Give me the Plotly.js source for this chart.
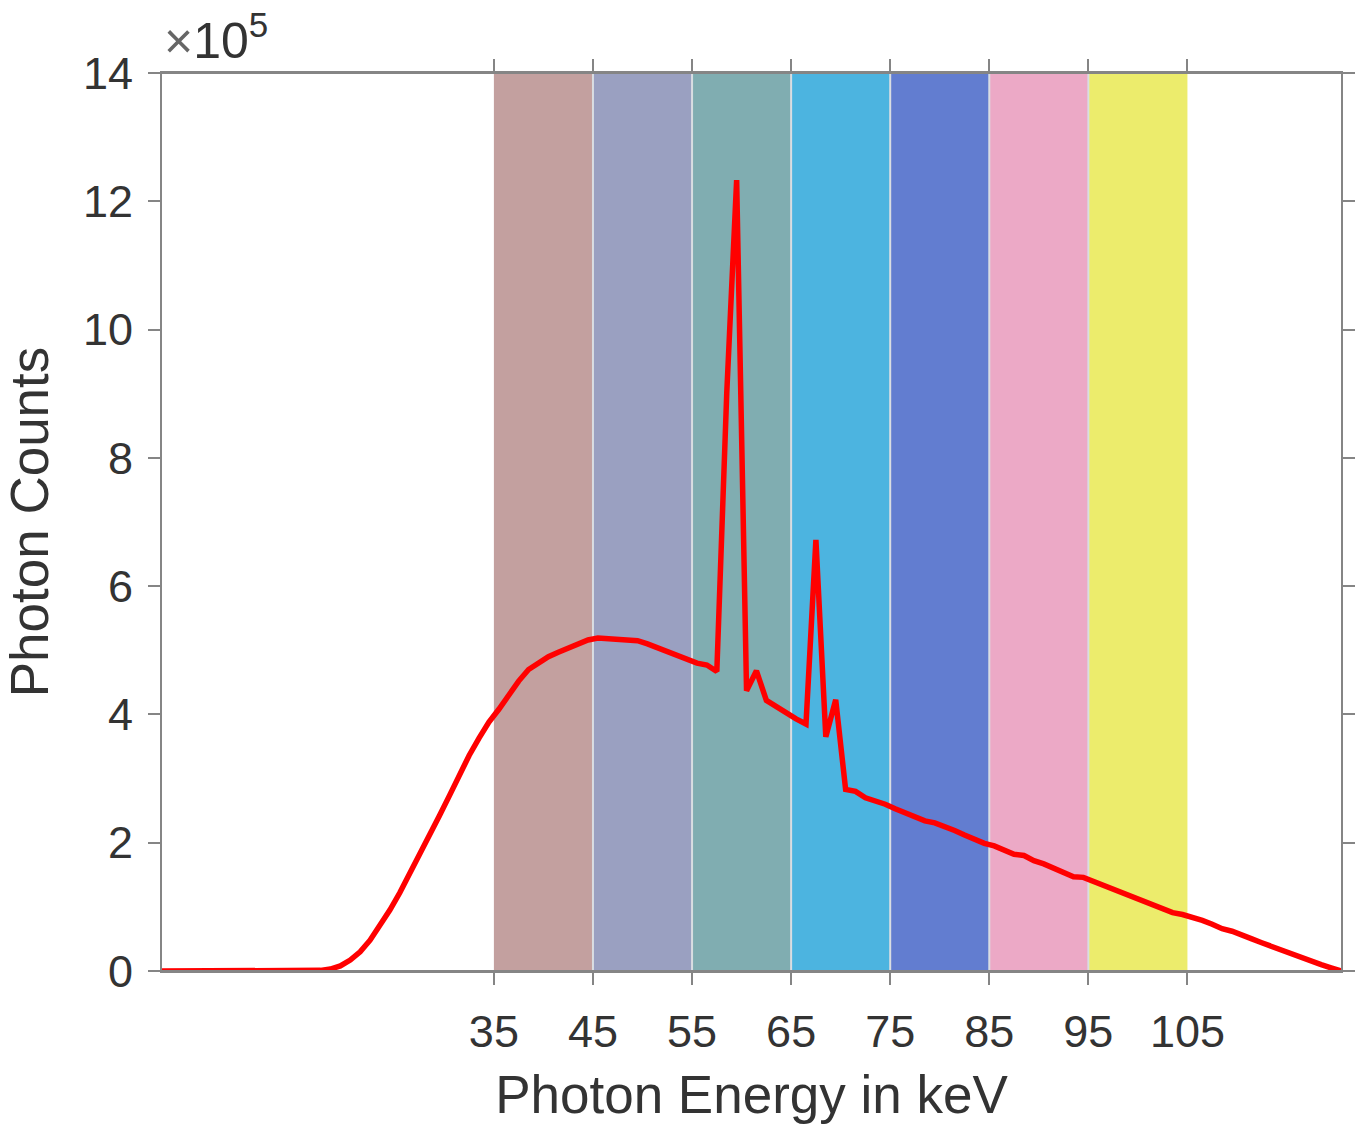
<!DOCTYPE html>
<html>
<head>
<meta charset="utf-8">
<script src="https://cdn.plot.ly/plotly-3.0.1.min.js"></script>
<style>html,body{margin:0;padding:0;background:#fff;}#chart{width:1363px;height:1131px;}</style>
</head>
<body>
<div id="chart"></div>
<script>
// Photon energy (keV), bin centres
const energy = [1.5,2.5,3.5,4.5,5.5,6.5,7.5,8.5,9.5,10.5,11.5,12.5,13.5,14.5,15.5,16.5,17.5,18.5,19.5,20.5,
  21.5,22.5,23.5,24.5,25.5,26.5,27.5,28.5,29.5,30.5,31.5,32.5,33.5,34.5,35.5,36.5,37.5,38.5,39.5,40.5,
  41.5,42.5,43.5,44.5,45.5,46.5,47.5,48.5,49.5,50.5,51.5,52.5,53.5,54.5,55.5,56.5,57.5,58.5,59.5,60.5,
  61.5,62.5,63.5,64.5,65.5,66.5,67.5,68.5,69.5,70.5,71.5,72.5,73.5,74.5,75.5,76.5,77.5,78.5,79.5,80.5,
  81.5,82.5,83.5,84.5,85.5,86.5,87.5,88.5,89.5,90.5,91.5,92.5,93.5,94.5,95.5,96.5,97.5,98.5,99.5,100.5,
  101.5,102.5,103.5,104.5,105.5,106.5,107.5,108.5,109.5,110.5,111.5,112.5,113.5,114.5,115.5,116.5,117.5,118.5,119.5,120.5];
// Photon counts (x 10^5)
const counts = [0,0,0,0,0,0,0,0,0,0,0,0,0,0,0,0,0.01,0.03,0.08,0.17,
  0.30,0.48,0.70,0.95,1.22,1.51,1.81,2.11,2.42,2.73,3.06,3.36,3.63,3.88,4.08,4.30,4.52,4.70,4.80,4.90,
  4.97,5.03,5.10,5.16,5.19,5.18,5.16,5.17,5.15,5.10,5.04,4.98,4.92,4.86,4.80,4.77,4.67,9.0,12.33,4.37,
  4.68,4.22,4.12,4.02,3.93,3.85,6.72,3.65,4.23,2.83,2.80,2.70,2.66,2.60,2.53,2.47,2.40,2.34,2.31,2.26,
  2.19,2.12,2.05,1.99,1.95,1.89,1.82,1.80,1.72,1.67,1.61,1.55,1.47,1.46,1.40,1.33,1.26,1.20,1.16,1.10,
  1.04,0.98,0.91,0.88,0.84,0.79,0.73,0.66,0.62,0.55,0.50,0.44,0.38,0.32,0.27,0.22,0.15,0.10,0.05,0.00];
// Energy bins (keV)
const binStart = [35,45,55,65,75,85,95];
const binEnd   = [45,55,65,75,85,95,105];
const binColors = ['#c3a09f','#9aa0c1','#80adb1','#4cb4e0','#627dd0','#eca9c6','#ecec6c'];
const xTicks = [35,45,55,65,75,85,95,105];
const yTicks = [0,2,4,6,8,10,12,14];

const shapes = [];
binStart.forEach((s,i)=>{
  shapes.push({type:'rect', xref:'x', yref:'paper', x0:s, x1:binEnd[i], y0:0, y1:1,
    fillcolor:binColors[i], line:{width:0}, layer:'below'});
});
binStart.slice(1).forEach(s=>{
  shapes.push({type:'line', xref:'x', yref:'paper', x0:s, x1:s, y0:0, y1:1,
    line:{color:'#d9dde2', width:2}, layer:'below'});
});
// extended top / bottom box lines
const ext0 = -12/1179, ext1 = 1 + 14/1179;
shapes.push({type:'line', xref:'paper', yref:'paper', x0:ext0, x1:ext1, y0:0, y1:0, line:{color:'#858585', width:2}});
shapes.push({type:'line', xref:'paper', yref:'paper', x0:ext0, x1:ext1, y0:1, y1:1, line:{color:'#858585', width:2}});

const trace = {x:energy, y:counts, type:'scatter', mode:'lines',
  line:{color:'#ff0000', width:5.5}, hoverinfo:'x+y'};

const fam = 'Liberation Sans, Arial, sans-serif';
const axisCommon = {showgrid:false, zeroline:false, showline:true, linecolor:'#858585', linewidth:2,
  mirror:'ticks', ticks:'outside', ticklen:12, tickwidth:2, tickcolor:'#858585',
  tickfont:{family:fam, size:45, color:'#333333'}};

const layout = {
  width:1363, height:1131,
  margin:{l:162, r:22, t:73, b:160},
  paper_bgcolor:'#ffffff', plot_bgcolor:'#ffffff',
  showlegend:false,
  xaxis:Object.assign({}, axisCommon, {range:[1.5,120.5], tickmode:'array', tickvals:xTicks,
    ticktext:xTicks.map(String), ticklabelstandoff:8,
    title:{text:'Photon Energy in keV', standoff:20, font:{family:fam, size:53, color:'#333333'}}}),
  yaxis:Object.assign({}, axisCommon, {range:[0,14], tickmode:'array', tickvals:yTicks,
    ticktext:yTicks.map(String), ticklabelstandoff:6,
    title:{text:'Photon Counts', standoff:22, font:{family:fam, size:53, color:'#333333'}}}),
  shapes:shapes,
  annotations:[{xref:'paper', yref:'paper', x:0, y:1, xanchor:'left', yanchor:'bottom',
    xshift:0, yshift:2, showarrow:false,
    text:'<span style="color:#666666">×</span>10<sup>5</sup>',
    font:{family:fam, size:50, color:'#333333'}}]
};

Plotly.newPlot('chart', [trace], layout, {displayModeBar:false, staticPlot:true});
</script>
</body>
</html>
